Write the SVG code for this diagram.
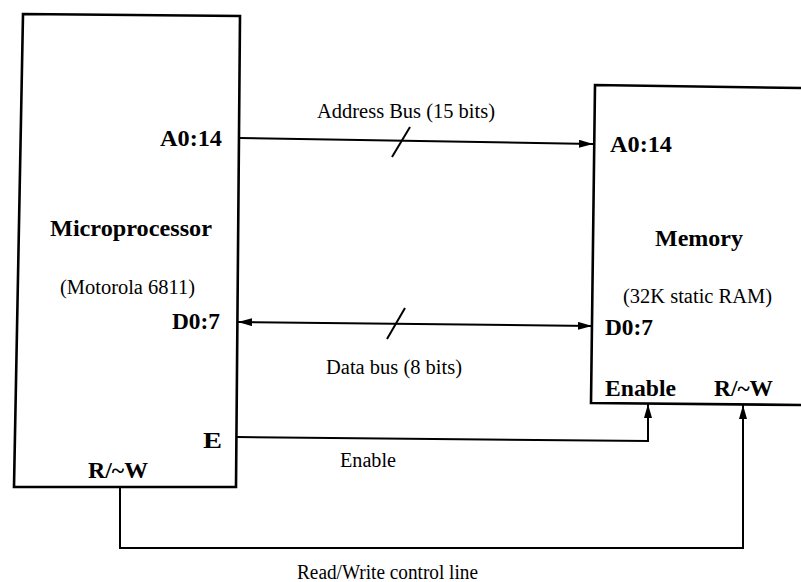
<svg xmlns="http://www.w3.org/2000/svg" width="801" height="582" viewBox="0 0 801 582">
<defs>
<style>
.box{fill:none;stroke:#000;stroke-width:2.6;stroke-linejoin:miter}
.ln{fill:none;stroke:#000;stroke-width:2}
.b{font-family:"Liberation Serif","DejaVu Serif","Times New Roman",serif;font-weight:bold;font-size:23px;fill:#000}
.r{font-family:"Liberation Serif","DejaVu Serif","Times New Roman",serif;font-size:20px;fill:#000}
</style>
<marker id="ah" viewBox="0 0 14 8" refX="14" refY="4" markerWidth="14" markerHeight="8" markerUnits="userSpaceOnUse" orient="auto-start-reverse">
<path d="M0,0 L14,4 L0,8 Z" fill="#000"/>
</marker>
</defs>
<rect width="801" height="582" fill="#fff"/>
<g id="microprocessor">
<path class="box" d="M23,14 L240,16 L236,487 L14,487 Z"/>
<text class="b" x="160" y="146" textLength="62" lengthAdjust="spacingAndGlyphs">A0:14</text>
<text class="b" x="50" y="236" textLength="162" lengthAdjust="spacingAndGlyphs">Microprocessor</text>
<text class="r" x="60" y="294" textLength="135" lengthAdjust="spacingAndGlyphs">(Motorola 6811)</text>
<text class="b" x="172" y="329" textLength="48" lengthAdjust="spacingAndGlyphs">D0:7</text>
<text class="b" x="203" y="448" textLength="19" lengthAdjust="spacingAndGlyphs">E</text>
<text class="b" x="88" y="478" textLength="60" lengthAdjust="spacingAndGlyphs">R/~W</text>
</g>
<g id="memory">
<path class="box" d="M801,88 L595,85 L591,403 L801,405"/>
<text class="b" x="610" y="152" textLength="62" lengthAdjust="spacingAndGlyphs">A0:14</text>
<text class="b" x="655" y="246" textLength="88" lengthAdjust="spacingAndGlyphs">Memory</text>
<text class="r" x="623" y="303" textLength="149" lengthAdjust="spacingAndGlyphs">(32K static RAM)</text>
<text class="b" x="605" y="335" textLength="48" lengthAdjust="spacingAndGlyphs">D0:7</text>
<text class="b" x="605" y="396" textLength="71" lengthAdjust="spacingAndGlyphs">Enable</text>
<text class="b" x="714" y="396" textLength="59" lengthAdjust="spacingAndGlyphs">R/~W</text>
</g>
<g id="connectors">
<path class="ln" d="M240,138 L593,144" marker-end="url(#ah)"/>
<path class="ln" d="M392,157 L410,127"/>
<text class="r" x="317" y="118" textLength="178" lengthAdjust="spacingAndGlyphs">Address Bus (15 bits)</text>
<path class="ln" d="M238,322 L592,326" marker-start="url(#ah)" marker-end="url(#ah)"/>
<path class="ln" d="M387,339 L405,308"/>
<text class="r" x="326" y="374" textLength="136" lengthAdjust="spacingAndGlyphs">Data bus (8 bits)</text>
<path class="ln" d="M237,437 L648,441 L648,404" marker-end="url(#ah)"/>
<text class="r" x="340" y="467" textLength="56" lengthAdjust="spacingAndGlyphs">Enable</text>
<path class="ln" d="M120,487 L120,548 L743,548 L743,405" marker-end="url(#ah)"/>
<text class="r" x="297" y="579" textLength="181" lengthAdjust="spacingAndGlyphs">Read/Write control line</text>
</g>
</svg>
